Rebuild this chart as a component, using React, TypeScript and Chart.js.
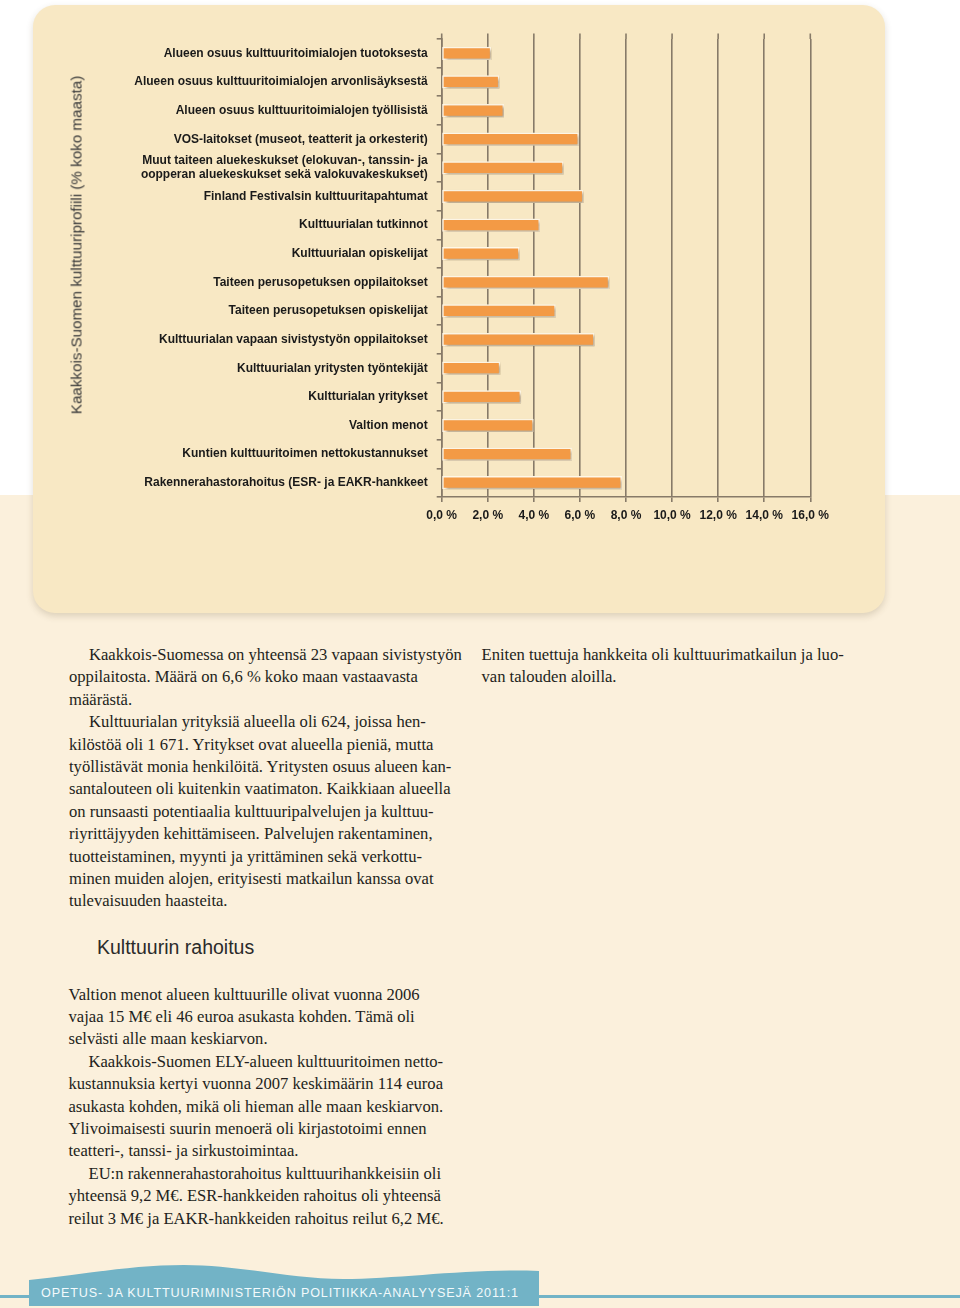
import React, { useEffect, useRef } from "react";
import { Chart, registerables } from "chart.js";

Chart.register(...registerables);

const categories: (string | string[])[] = [
  "Alueen osuus kulttuuritoimialojen tuotoksesta",
  "Alueen osuus kulttuuritoimialojen arvonlisäyksestä",
  "Alueen osuus kulttuuritoimialojen työllisistä",
  "VOS-laitokset (museot, teatterit ja orkesterit)",
  ["Muut taiteen aluekeskukset (elokuvan-, tanssin- ja", "oopperan aluekeskukset sekä valokuvakeskukset)"],
  "Finland Festivalsin kulttuuritapahtumat",
  "Kulttuurialan tutkinnot",
  "Kulttuurialan opiskelijat",
  "Taiteen perusopetuksen oppilaitokset",
  "Taiteen perusopetuksen opiskelijat",
  "Kulttuurialan vapaan sivistystyön oppilaitokset",
  "Kulttuurialan yritysten työntekijät",
  "Kultturialan yritykset",
  "Valtion menot",
  "Kuntien kulttuuritoimen nettokustannukset",
  "Rakennerahastorahoitus (ESR- ja EAKR-hankkeet",
];

const shareOfCountry: number[] = [
  2.14, 2.49, 2.69, 5.94, 5.28, 6.14, 4.25, 3.37, 7.26, 4.94, 6.62, 2.53, 3.43, 3.98, 5.64, 7.81,
];

const xTickLabels: string[] = [
  "0,0 %", "2,0 %", "4,0 %", "6,0 %", "8,0 %", "10,0 %", "12,0 %", "14,0 %", "16,0 %",
];

const axisTitle = "Kaakkois-Suomen kulttuuriprofiili (% koko maasta)";

const leftLines1: [string, boolean][] = [
  ["Kaakkois-Suomessa on yhteensä 23 vapaan sivistystyön", true],
  ["oppilaitosta. Määrä on 6,6 % koko maan vastaavasta", false],
  ["määrästä.", false],
  ["Kulttuurialan yrityksiä alueella oli 624, joissa hen-", true],
  ["kilöstöä oli 1 671. Yritykset ovat alueella pieniä, mutta", false],
  ["työllistävät monia henkilöitä. Yritysten osuus alueen kan-", false],
  ["santalouteen oli kuitenkin vaatimaton. Kaikkiaan alueella", false],
  ["on runsaasti potentiaalia kulttuuripalvelujen ja kulttuu-", false],
  ["riyrittäjyyden kehittämiseen. Palvelujen rakentaminen,", false],
  ["tuotteistaminen, myynti ja yrittäminen sekä verkottu-", false],
  ["minen muiden alojen, erityisesti matkailun kanssa ovat", false],
  ["tulevaisuuden haasteita.", false],
];

const rightLines1: [string, boolean][] = [
  ["Eniten tuettuja hankkeita oli kulttuurimatkailun ja luo-", false],
  ["van talouden aloilla.", false],
];

const heading = "Kulttuurin rahoitus";

const leftLines2: [string, boolean][] = [
  ["Valtion menot alueen kulttuurille olivat vuonna 2006", false],
  ["vajaa 15 M€ eli 46 euroa asukasta kohden. Tämä oli", false],
  ["selvästi alle maan keskiarvon.", false],
  ["Kaakkois-Suomen ELY-alueen kulttuuritoimen netto-", true],
  ["kustannuksia kertyi vuonna 2007 keskimäärin 114 euroa", false],
  ["asukasta kohden, mikä oli hieman alle maan keskiarvon.", false],
  ["Ylivoimaisesti suurin menoerä oli kirjastotoimi ennen", false],
  ["teatteri-, tanssi- ja sirkustoimintaa.", false],
  ["EU:n rakennerahastorahoitus kulttuurihankkeisiin oli", true],
  ["yhteensä 9,2 M€. ESR-hankkeiden rahoitus oli yhteensä", false],
  ["reilut 3 M€ ja EAKR-hankkeiden rahoitus reilut 6,2 M€.", false],
];

const footerText = "OPETUS- JA KULTTUURIMINISTERIÖN POLITIIKKA-ANALYYSEJÄ 2011:1";

const GRID = "#877A68";
const BAR = "#F39A45";
const TEXT = "#231F20";

const barShadow = {
  id: "barShadow",
  beforeDatasetsDraw(chart: any) {
    const ctx = chart.ctx;
    ctx.save();
    ctx.shadowColor = "rgba(100,70,30,0.5)";
    ctx.shadowBlur = 3;
    ctx.shadowOffsetX = 2;
    ctx.shadowOffsetY = 2;
  },
  afterDatasetsDraw(chart: any) {
    chart.ctx.restore();
  },
};

const gridExtend = {
  id: "gridExtend",
  afterDraw(chart: any) {
    const ctx = chart.ctx;
    const xs = chart.scales.x;
    const top = chart.chartArea.top;
    ctx.save();
    ctx.strokeStyle = GRID;
    ctx.lineWidth = 1.6;
    xs.ticks.forEach((t: any) => {
      const px = xs.getPixelForValue(t.value);
      ctx.beginPath();
      ctx.moveTo(px, top - 5.5);
      ctx.lineTo(px, top);
      ctx.stroke();
    });
    ctx.restore();
  },
};

function TextBlock({ lines, left, top }: { lines: [string, boolean][]; left: number; top: number }) {
  return (
    <div
      style={{
        position: "absolute",
        left,
        top,
        fontFamily: "'Liberation Serif', 'Times New Roman', serif",
        fontSize: 16.6,
        lineHeight: "22.4px",
        color: TEXT,
        whiteSpace: "nowrap",
      }}
    >
      {lines.map(([t, indent], i) => (
        <div key={i} style={{ paddingLeft: indent ? 20 : 0 }}>
          {t}
        </div>
      ))}
    </div>
  );
}

export default function App() {
  const ref = useRef<HTMLCanvasElement>(null);

  useEffect(() => {
    document.body.style.margin = "0";
    const canvas = ref.current;
    if (!canvas) return;
    const padLeft = 120;
    const labelFont = { family: "'Liberation Sans', Arial, sans-serif", size: 12, weight: "bold" as const };
    const chart = new Chart(canvas, {
      type: "bar",
      data: {
        labels: categories,
        datasets: [
          {
            data: shareOfCountry,
            backgroundColor: BAR,
            borderColor: "#FFF8E8",
            borderWidth: 1.5,
            borderSkipped: false,
            barThickness: 12.5,
          },
        ],
      },
      options: {
        animation: false,
        responsive: false,
        indexAxis: "y",
        layout: { padding: { left: padLeft, right: 149.7, top: 39, bottom: 0 } },
        plugins: { legend: { display: false }, tooltip: { enabled: false } },
        scales: {
          x: {
            min: 0,
            max: 16,
            ticks: {
              stepSize: 2,
              autoSkip: false,
              maxRotation: 0,
              padding: 6,
              color: "#1A1A1A",
              font: labelFont,
              callback: (_v: any, i: number) => xTickLabels[i],
            },
            grid: { color: GRID, lineWidth: 1.6, tickLength: 5, drawTicks: true },
            border: { color: GRID, width: 1.6 },
            afterFit: (s: any) => {
              s.height = 43;
            },
          },
          y: {
            ticks: { autoSkip: false, padding: 9, color: "#1A1A1A", font: labelFont },
            grid: { drawOnChartArea: false, color: GRID, lineWidth: 1.6, tickLength: 5, offset: true },
            border: { color: GRID, width: 1.6 },
            afterFit: (s: any) => {
              s.width = 441.7 - padLeft;
            },
          },
        },
      },
      plugins: [barShadow, gridExtend],
    });
    return () => chart.destroy();
  }, []);

  return (
    <div
      style={{
        position: "absolute",
        left: 0,
        top: 0,
        width: 960,
        height: 1308,
        background: "#FBF0DC",
        overflow: "hidden",
      }}
    >
      <div style={{ position: "absolute", left: 0, top: 0, width: 960, height: 495, background: "#FFFFFF" }} />
      <div
        style={{
          position: "absolute",
          left: 33,
          top: 5,
          width: 852,
          height: 608,
          borderRadius: 22,
          background: "#F8E8C4",
          boxShadow: "0 3px 7px rgba(80,60,30,0.18)",
        }}
      />
      <canvas
        ref={ref}
        width={960}
        height={540}
        style={{ position: "absolute", left: 0, top: 0, width: 960, height: 540 }}
      />
      <div
        style={{
          position: "absolute",
          left: 76,
          top: 245,
          transform: "translate(-50%, -50%) rotate(-90deg)",
          whiteSpace: "nowrap",
          fontFamily: "'Liberation Sans', Arial, sans-serif",
          fontSize: 15.2,
          color: "#3A3A3A",
        }}
      >
        {axisTitle}
      </div>

      <TextBlock lines={leftLines1} left={69} top={644} />
      <TextBlock lines={rightLines1} left={481.5} top={644} />

      <div
        style={{
          position: "absolute",
          left: 97,
          top: 937.8,
          fontFamily: "'Liberation Sans', Arial, sans-serif",
          fontSize: 19.5,
          lineHeight: "19.5px",
          color: "#2A2A2A",
          whiteSpace: "nowrap",
        }}
      >
        {heading}
      </div>

      <TextBlock lines={leftLines2} left={68.5} top={983.6} />

      <svg
        width={960}
        height={60}
        style={{ position: "absolute", left: 0, top: 1248 }}
        viewBox="0 1248 960 60"
      >
        <rect x={0} y={1295} width={960} height={3} fill="#72B3C6" />
        <path
          d="M29,1280 C80,1275 130,1265 184,1265 C240,1265 290,1279 343,1279 C400,1279 470,1268 539,1271 L539,1306 L29,1306 Z"
          fill="#72B3C6"
        />
      </svg>
      <div
        style={{
          position: "absolute",
          left: 41,
          top: 1287,
          fontFamily: "'Liberation Sans', Arial, sans-serif",
          fontSize: 12.6,
          lineHeight: "12.6px",
          letterSpacing: 0.85,
          color: "#F3FAFC",
          whiteSpace: "nowrap",
        }}
      >
        {footerText}
      </div>
    </div>
  );
}
